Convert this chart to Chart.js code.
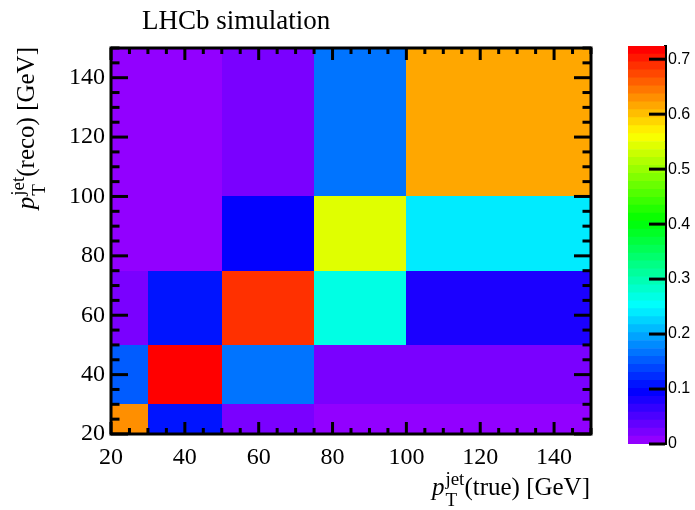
<!DOCTYPE html>
<html lang="en">
<head>
<meta charset="UTF-8">
<title>LHCb simulation - jet pT response</title>
<script src="https://cdn.jsdelivr.net/npm/chart.js@4"></script>
<style>
  body { margin: 0; background: #fff; }
  #wrap { position: relative; width: 695px; height: 510px; }
  #wrap canvas { position: absolute; top: 0; }
  #matrix { left: 0; }
  #palette { left: 600px; }
</style>
</head>
<body>
<div id="wrap">
  <canvas id="matrix" width="695" height="510"></canvas>
  <canvas id="palette" width="95" height="510"></canvas>
</div>
<script>
// bin edges in GeV
const xEdges = [20, 30, 50, 75, 100, 150];   // pT jet (true)
const yEdges = [20, 30, 50, 75, 100, 150];   // pT jet (reco)

// cell contents, one array per reco bin (bottom to top), true bins left to right
const reco20to30   = [0.630, 0.105, 0.022, 0.007, 0.007];
const reco30to50   = [0.152, 0.724, 0.167, 0.022, 0.022];
const reco50to75   = [0.022, 0.109, 0.688, 0.268, 0.080];
const reco75to100  = [0.007, 0.007, 0.094, 0.543, 0.239];
const reco100to150 = [0.007, 0.007, 0.022, 0.167, 0.616];
const zRows = [reco20to30, reco30to50, reco50to75, reco75to100, reco100to150];

const zMax = 0.724;
const xTicks = [20, 40, 60, 80, 100, 120, 140];
const yTicks = [20, 40, 60, 80, 100, 120, 140];
const zTicks = [0, 0.1, 0.2, 0.3, 0.4, 0.5, 0.6, 0.7];

const SERIF = '"Liberation Serif", "Times New Roman", serif';
const SANS = '"Liberation Sans", Arial, sans-serif';

// ROOT "pretty" palette: 50 colours, violet -> red
const nColors = 50;
function paletteColor(k) {
  const hue = k >= nColors - 1 ? 0 : 280 - (k + 1) * 280 / nColors;
  return 'hsl(' + hue + ', 100%, 50%)';
}
function colorFor(v) {
  const k = Math.floor(nColors * v / zMax);
  return paletteColor(Math.min(Math.max(k, 0), nColors - 1));
}

// one record per cell
const cells = [];
zRows.forEach((row, j) => {
  row.forEach((v, i) => {
    cells.push({
      x: (xEdges[i] + xEdges[i + 1]) / 2, y: (yEdges[j] + yEdges[j + 1]) / 2,
      x0: xEdges[i], x1: xEdges[i + 1], y0: yEdges[j], y1: yEdges[j + 1], v: v
    });
  });
});

function line(ctx, x1, y1, x2, y2) {
  ctx.beginPath();
  ctx.moveTo(x1, y1);
  ctx.lineTo(x2, y2);
  ctx.stroke();
}

// p_T^jet + rest, right end of text at (0,0), baseline at 0
function drawPtLabel(ctx, rest, size) {
  const small = Math.round(size * 0.75);
  ctx.font = 'italic ' + size + 'px ' + SERIF;
  const wp = ctx.measureText('p').width;
  ctx.font = small + 'px ' + SERIF;
  const ws = Math.max(ctx.measureText('jet').width, ctx.measureText('T').width) + 1;
  ctx.font = size + 'px ' + SERIF;
  const wr = ctx.measureText(rest).width;
  const x0 = -(wp + ws + wr);
  ctx.textAlign = 'left';
  ctx.textBaseline = 'alphabetic';
  ctx.font = 'italic ' + size + 'px ' + SERIF;
  ctx.fillText('p', x0, 0);
  ctx.font = small + 'px ' + SERIF;
  ctx.fillText('jet', x0 + wp + 1, -size * 0.42);
  ctx.fillText('T', x0 + wp + 1, size * 0.42);
  ctx.font = size + 'px ' + SERIF;
  ctx.fillText(rest, x0 + wp + ws, 0);
}

const heatmap = {
  id: 'heatmap',
  beforeDatasetsDraw(chart) {
    const { ctx, scales: { x, y } } = chart;
    ctx.save();
    chart.data.datasets[0].data.forEach(c => {
      const l = Math.round(x.getPixelForValue(c.x0)), r = Math.round(x.getPixelForValue(c.x1));
      const t = Math.round(y.getPixelForValue(c.y1)), b = Math.round(y.getPixelForValue(c.y0));
      ctx.fillStyle = colorFor(c.v);
      ctx.fillRect(l, t, r - l, b - t);
    });
    ctx.restore();
  },
  afterDraw(chart) {
    const { ctx, chartArea: a, scales: { x, y } } = chart;
    ctx.save();
    ctx.strokeStyle = '#000';
    ctx.lineWidth = 3;
    // ticks pointing inwards on all four sides
    for (let v = 20; v <= 150; v += 5) {
      const major = v % 20 === 0;
      const px = x.getPixelForValue(v);
      const lx = major ? 12 : 6;
      line(ctx, px, a.bottom, px, a.bottom - lx);
      line(ctx, px, a.top, px, a.top + lx);
      const py = y.getPixelForValue(v);
      const ly = major ? 17 : 8.5;
      line(ctx, a.left, py, a.left + ly, py);
      line(ctx, a.right, py, a.right - ly, py);
    }
    ctx.strokeRect(a.left, a.top, a.right - a.left, a.bottom - a.top);

    ctx.fillStyle = '#000';
    ctx.font = '27px ' + SERIF;
    ctx.textAlign = 'left';
    ctx.textBaseline = 'alphabetic';
    ctx.fillText('LHCb simulation', 142, 29);

    ctx.save();
    ctx.translate(590, 495);
    drawPtLabel(ctx, '(true) [GeV]', 25);
    ctx.restore();

    ctx.save();
    ctx.translate(34, 47);
    ctx.rotate(-Math.PI / 2);
    drawPtLabel(ctx, '(reco) [GeV]', 25);
    ctx.restore();
    ctx.restore();
  }
};

new Chart(document.getElementById('matrix'), {
  type: 'scatter',
  data: { datasets: [{ data: cells, pointRadius: 0, pointHoverRadius: 0 }] },
  options: {
    responsive: false,
    animation: false,
    events: [],
    layout: { padding: { top: 48, right: 104, left: 0, bottom: 0 } },
    plugins: { legend: { display: false }, tooltip: { enabled: false } },
    scales: {
      x: {
        type: 'linear', min: 20, max: 150,
        afterBuildTicks: s => { s.ticks = xTicks.map(v => ({ value: v })); },
        afterFit: s => { s.height = 76; },
        grid: { display: false, drawTicks: false },
        border: { display: false },
        ticks: { font: { family: SERIF, size: 24 }, color: '#000', padding: 9, maxRotation: 0, autoSkip: false }
      },
      y: {
        type: 'linear', min: 20, max: 150,
        afterBuildTicks: s => { s.ticks = yTicks.map(v => ({ value: v })); },
        afterFit: s => { s.width = 111; },
        grid: { display: false, drawTicks: false },
        border: { display: false },
        ticks: { font: { family: SERIF, size: 24 }, color: '#000', padding: 6, autoSkip: false }
      }
    }
  },
  plugins: [heatmap]
});

// colour scale on the right
const bandDatasets = [];
for (let k = 0; k < nColors; k++) {
  bandDatasets.push({
    data: [[k * zMax / nColors, (k + 1) * zMax / nColors]],
    backgroundColor: paletteColor(k),
    borderWidth: 0,
    barPercentage: 1,
    categoryPercentage: 1,
    grouped: false
  });
}

const paletteTicks = {
  id: 'paletteTicks',
  afterDraw(chart) {
    const { ctx, chartArea: a, scales: { y } } = chart;
    ctx.save();
    ctx.strokeStyle = '#000';
    ctx.lineWidth = 3;
    zTicks.forEach(v => {
      const py = y.getPixelForValue(v);
      line(ctx, a.right - 16, py, a.right, py);
    });
    ctx.restore();
  }
};

new Chart(document.getElementById('palette'), {
  type: 'bar',
  data: { labels: [''], datasets: bandDatasets },
  options: {
    responsive: false,
    animation: false,
    events: [],
    layout: { padding: { top: 46, left: 28, right: 0, bottom: 66 } },
    plugins: { legend: { display: false }, tooltip: { enabled: false } },
    scales: {
      x: { display: false },
      y: {
        position: 'right', min: 0, max: zMax,
        afterBuildTicks: s => { s.ticks = zTicks.map(v => ({ value: v })); },
        afterFit: s => { s.width = 30; },
        grid: { display: false, drawTicks: false },
        border: { display: true, width: 3, color: '#000' },
        ticks: {
          font: { family: SANS, size: 16 }, color: '#000', padding: 3,
          callback: v => (v === 0 ? '0' : v.toFixed(1))
        }
      }
    }
  },
  plugins: [paletteTicks]
});
</script>
</body>
</html>
